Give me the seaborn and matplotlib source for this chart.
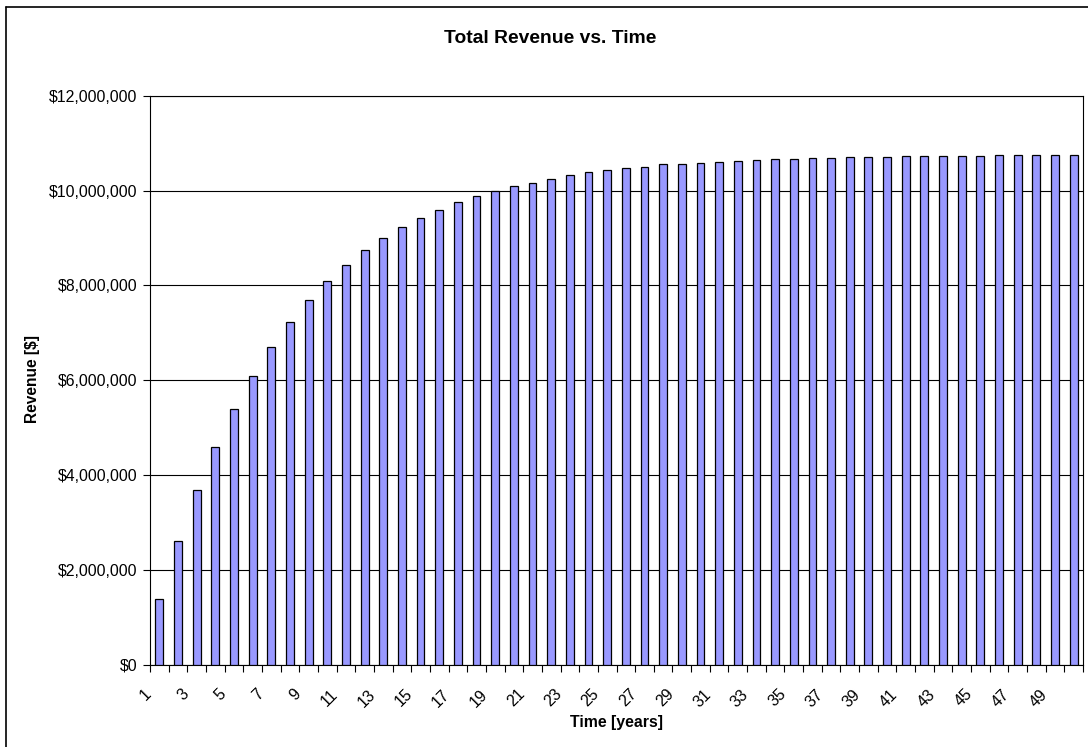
import numpy as np
import pandas as pd
import matplotlib
matplotlib.use("Agg")
import matplotlib.pyplot as plt
import matplotlib.ticker as mticker
import matplotlib.transforms as mtransforms
from matplotlib.lines import Line2D
import seaborn as sns

# ---- data ----
years = list(range(1, 51))
revenue = [
    1400000, 2620000, 3680000, 4600000, 5400000, 6090000, 6700000, 7230000, 7690000, 8090000,
    8440000, 8740000, 9000000, 9230000, 9430000, 9600000, 9750000, 9880000, 9990000, 10100000,
    10170000, 10250000, 10320000, 10390000, 10430000, 10470000, 10500000, 10550000, 10570000, 10590000,
    10610000, 10630000, 10640000, 10660000, 10670000, 10680000, 10690000, 10700000, 10710000, 10710000,
    10720000, 10730000, 10730000, 10730000, 10730000, 10740000, 10740000, 10740000, 10750000, 10750000,
]
y_ticks = [0, 2000000, 4000000, 6000000, 8000000, 10000000, 12000000]
x_label_years = years[::2]

title = "Total Revenue vs. Time"
x_title = "Time [years]"
y_title = "Revenue [$]"

# ---- style ----
sns.set_theme(style="white")
plt.rcParams['font.family'] = ['Liberation Sans', 'DejaVu Sans']
plt.rcParams['text.color'] = 'black'
plt.rcParams['axes.labelcolor'] = 'black'
plt.rcParams['xtick.color'] = 'black'
plt.rcParams['ytick.color'] = 'black'

W, H = 1088, 747
fig = plt.figure(figsize=(W / 100, H / 100), dpi=100)
fig.patch.set_facecolor("white")

left, right, top, bottom = 150, 1083, 95.7, 665
ax = fig.add_axes([left / W, 1 - bottom / H, (right - left) / W, (bottom - top) / H])
ax.set_facecolor("white")

df = pd.DataFrame({"Year": years, "Revenue": revenue})
sns.barplot(data=df, x="Year", y="Revenue", color="#9999FF", saturation=1,
            width=0.42, edgecolor="black", linewidth=0.9, ax=ax, zorder=3)

ax.set_xlim(-0.5, len(years) - 0.5)
ax.set_ylim(y_ticks[0], y_ticks[-1])
ax.set_yticks(y_ticks)
ax.yaxis.set_major_formatter(mticker.FuncFormatter(lambda v, p: f"${v:,.0f}"))
ax.yaxis.grid(True, color="black", linewidth=0.8)
ax.xaxis.grid(False)
ax.set_axisbelow(True)

# x ticks: labels at odd years (category centres), tick marks at category boundaries
pos = [years.index(y) for y in x_label_years]
ax.set_xticks(pos)
ax.set_xticklabels([str(y) for y in x_label_years])
ax.set_xticks(np.arange(-0.5, len(years), 1), minor=True)
ax.tick_params(axis="x", which="major", length=0, pad=15.5, labelsize=11.4, colors="black")
ax.tick_params(axis="x", which="minor", length=5, width=0.8, direction="out", color="black", bottom=True)
ax.tick_params(axis="y", which="major", length=5, width=0.8, direction="out", pad=4.3,
               labelsize=11.4, colors="black", left=True)

offset = mtransforms.ScaledTranslation(-5 / 100, 0, fig.dpi_scale_trans)
for lbl in ax.get_xticklabels():
    lbl.set_rotation(45)
    lbl.set_ha("right")
    lbl.set_transform(lbl.get_transform() + offset)

for s in ax.spines.values():
    s.set_visible(True)
    s.set_color("black")
    s.set_linewidth(0.8)

ax.set_xlabel("")
ax.set_ylabel("")

fig.text(550 / W, 1 - 38.3 / H, title, ha="center", va="center", fontsize=13.9,
         fontweight="bold", color="black")
fig.text(616.5 / W, 1 - 722 / H, x_title, ha="center", va="center", fontsize=11.4,
         fontweight="bold", color="black")
fig.text(32 / W, 1 - 379 / H, y_title, ha="center", va="center", rotation=90, fontsize=11.2,
         fontweight="bold", color="black")

# outer chart frame (left and top edges are inside the picture; the rest is cropped)
fx0, fy0 = 5.5 / W, 1 - 7 / H
fig.lines.append(Line2D([fx0, fx0], [0, fy0], transform=fig.transFigure, color="black", linewidth=1.2))
fig.lines.append(Line2D([fx0, 1], [fy0, fy0], transform=fig.transFigure, color="black", linewidth=1.2))

fig.savefig("out.png", dpi=100, facecolor="white")
